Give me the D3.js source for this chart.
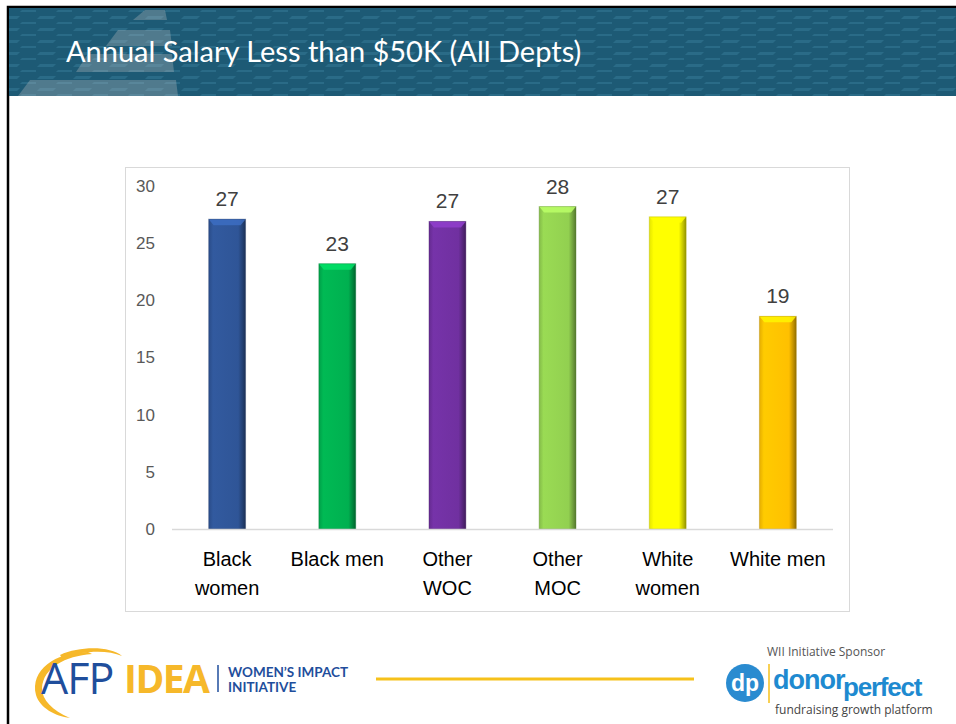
<!DOCTYPE html>
<html>
<head>
<meta charset="utf-8">
<script src="https://cdn.jsdelivr.net/npm/d3@7"></script>
<style>
  body { margin: 0; background: #fff; }
  svg { display: block; }
</style>
</head>
<body>
<svg id="slide" width="956" height="724"></svg>
<script>
// chart data
const categories = ['Black women', 'Black men', 'Other WOC', 'Other MOC', 'White women', 'White men'];
const values = [27.1, 23.2, 26.9, 28.2, 27.3, 18.6];
const barColors = ['#2f5597', '#00b050', '#7030a0', '#92d050', '#ffff00', '#ffc000'];
const yTicks = [0, 5, 10, 15, 20, 25, 30];
const title = 'Annual Salary Less than $50K (All Depts)';

const svg = d3.select('#slide');
const defs = svg.append('defs');

// slide border + header band
svg.append('rect').attr('x', 8).attr('y', 7).attr('width', 960).attr('height', 730)
  .attr('fill', '#fff').attr('stroke', '#000').attr('stroke-width', 2.5);

const pat = defs.append('pattern').attr('id', 'hdrpat').attr('patternUnits', 'userSpaceOnUse')
  .attr('width', 36).attr('height', 12);
pat.append('rect').attr('width', 36).attr('height', 12).attr('fill', '#1d5a75');
pat.append('path').attr('d', 'M4,4 L20,4 L17,7 L1,7 Z').attr('fill', '#2a6b87');
pat.append('path').attr('d', 'M22,10 L38,10 L35,13 L19,13 Z').attr('fill', '#2a6b87');

svg.append('rect').attr('x', 9).attr('y', 8).attr('width', 947).attr('height', 88).attr('fill', 'url(#hdrpat)');

// pale stepped triangle at the left of the header
const stripes = [[145, 10, 165, 20], [118, 30, 170, 46], [88, 54, 172, 72], [30, 80, 176, 96]];
stripes.forEach(s => {
  const [x0, y0, x1, y1] = s;
  svg.append('polygon')
    .attr('points', `${x0 - 12},${y1} ${x0},${y0} ${x1},${y0} ${x1 + 2},${y1}`)
    .attr('fill', '#c8c8c8').attr('opacity', 0.3);
});

svg.append('text').attr('x', 66).attr('y', 62).text(title)
  .attr('fill', '#fff').attr('font-family', 'Lato, "Open Sans", sans-serif').attr('font-size', 29);

// chart frame
svg.append('rect').attr('x', 125.5).attr('y', 167.5).attr('width', 724).attr('height', 444)
  .attr('fill', '#fff').attr('stroke', '#d9d9d9').attr('stroke-width', 1);

const x = d3.scaleBand().domain(categories).range([172, 833]).paddingInner(0.665).paddingOuter(0.333);
const y = d3.scaleLinear().domain([0, 30]).range([529, 186]);

// y axis labels (no line)
const yAxis = svg.append('g').attr('transform', 'translate(172,0)')
  .call(d3.axisLeft(y).tickValues(yTicks).tickSize(0).tickPadding(17));
yAxis.select('.domain').remove();
yAxis.selectAll('text').attr('font-family', '"Liberation Sans", Arial, sans-serif')
  .attr('font-size', 17).attr('fill', '#595959');

// bevel gradients
barColors.forEach((c, i) => {
  const g = defs.append('linearGradient').attr('id', 'bar' + i).attr('x1', 0).attr('x2', 1).attr('y1', 0).attr('y2', 0);
  const base = d3.color(c);
  g.append('stop').attr('offset', '0%').attr('stop-color', base.darker(0.3));
  g.append('stop').attr('offset', '12%').attr('stop-color', base.brighter(0.15));
  g.append('stop').attr('offset', '80%').attr('stop-color', base);
  g.append('stop').attr('offset', '92%').attr('stop-color', base.darker(0.8));
  g.append('stop').attr('offset', '100%').attr('stop-color', base.darker(1.6));
});

const bars = svg.append('g').selectAll('g').data(categories).join('g');
bars.append('rect')
  .attr('x', d => x(d)).attr('width', x.bandwidth())
  .attr('y', (d, i) => y(values[i])).attr('height', (d, i) => y(0) - y(values[i]))
  .attr('fill', (d, i) => `url(#bar${i})`);
// top bevel
bars.append('path')
  .attr('d', (d, i) => {
    const x0 = x(d), x1 = x(d) + x.bandwidth(), t = y(values[i]);
    return `M${x0},${t} L${x1},${t} L${x1 - 5},${t + 6} L${x0 + 5},${t + 6} Z`;
  })
  .attr('fill', (d, i) => d3.color(barColors[i]).brighter(0.7)).attr('opacity', 0.85);
bars.append('rect')
  .attr('x', d => x(d)).attr('width', x.bandwidth())
  .attr('y', (d, i) => y(values[i])).attr('height', (d, i) => y(0) - y(values[i]))
  .attr('fill', 'none').attr('stroke', (d, i) => d3.color(barColors[i]).darker(1.2))
  .attr('stroke-opacity', 0.35).attr('stroke-width', 1);

// value labels
bars.append('text')
  .attr('x', d => x(d) + x.bandwidth() / 2).attr('y', (d, i) => y(values[i]) - 13)
  .attr('text-anchor', 'middle').text((d, i) => d3.format('.0f')(values[i]))
  .attr('font-family', '"Liberation Sans", Arial, sans-serif').attr('font-size', 21).attr('fill', '#404040');

// baseline
svg.append('line').attr('x1', 172).attr('x2', 833).attr('y1', y(0) + 0.5).attr('y2', y(0) + 0.5)
  .attr('stroke', '#d9d9d9').attr('stroke-width', 1.5);

// category labels (wrapped as in the reference)
const catLines = [['Black', 'women'], ['Black men'], ['Other', 'WOC'], ['Other', 'MOC'], ['White', 'women'], ['White men']];
categories.forEach((c, i) => {
  const t = svg.append('text').attr('text-anchor', 'middle')
    .attr('font-family', '"Liberation Sans", Arial, sans-serif').attr('font-size', 20).attr('fill', '#000');
  catLines[i].forEach((ln, j) => {
    t.append('tspan').attr('x', x(c) + x.bandwidth() / 2).attr('y', 566 + j * 29).text(ln);
  });
});

// footer: AFP IDEA logo
svg.append('path').attr('d', 'M88,652 C55,652 30,670 36,695 C40,708 55,716 70,718 C52,710 42,700 42,688 C43,668 65,656 92,654 Z')
  .attr('fill', '#f6b82a');
svg.append('path').attr('d', 'M60,655 C80,646 110,646 122,656 C108,650 85,650 62,658 Z').attr('fill', '#f6b82a');
svg.append('text').attr('x', 41).attr('y', 694).text('AFP')
  .attr('font-family', '"Open Sans", sans-serif').attr('font-size', 43).attr('fill', '#1f4e9c').attr('letter-spacing', -1);
svg.append('text').attr('x', 124).attr('y', 693).text('IDEA')
  .attr('font-family', '"Open Sans", sans-serif').attr('font-weight', 'bold').attr('font-size', 39).attr('fill', '#f6b82a').attr('letter-spacing', -1.5);
svg.append('line').attr('x1', 218).attr('x2', 218).attr('y1', 665).attr('y2', 692).attr('stroke', '#1f4e9c').attr('stroke-width', 1.5);
svg.append('text').attr('x', 228).attr('y', 677).text('WOMEN\u2019S IMPACT')
  .attr('font-family', 'Lato, sans-serif').attr('font-weight', 'bold').attr('font-size', 13.5).attr('fill', '#1f4e9c');
svg.append('text').attr('x', 228).attr('y', 692).text('INITIATIVE')
  .attr('font-family', 'Lato, sans-serif').attr('font-weight', 'bold').attr('font-size', 13.5).attr('fill', '#1f4e9c');

svg.append('line').attr('x1', 376).attr('x2', 694).attr('y1', 679).attr('y2', 679).attr('stroke', '#f6c11a').attr('stroke-width', 3);

// footer: sponsor logo
svg.append('text').attr('x', 767).attr('y', 656).text('WII Initiative Sponsor')
  .attr('font-family', '"Open Sans", sans-serif').attr('font-size', 12).attr('fill', '#555');
svg.append('circle').attr('cx', 745).attr('cy', 683).attr('r', 19).attr('fill', '#2a8bd0');
svg.append('text').attr('x', 745).attr('y', 691).attr('text-anchor', 'middle').text('dp')
  .attr('font-family', '"Liberation Sans", Arial, sans-serif').attr('font-weight', 'bold').attr('font-size', 23).attr('fill', '#fff');
svg.append('line').attr('x1', 769).attr('x2', 769).attr('y1', 664).attr('y2', 703).attr('stroke', '#f6c11a').attr('stroke-width', 1.5);
svg.append('text').attr('x', 773).attr('y', 689).text('donor')
  .attr('font-family', '"Liberation Sans", Arial, sans-serif').attr('font-weight', 'bold').attr('font-size', 27).attr('fill', '#1e8ad0').attr('letter-spacing', -1);
svg.append('text').attr('x', 843).attr('y', 696).text('perfect')
  .attr('font-family', '"Liberation Sans", Arial, sans-serif').attr('font-weight', 'bold').attr('font-size', 26).attr('fill', '#1e8ad0').attr('letter-spacing', -1.2);
svg.append('text').attr('x', 775).attr('y', 714).text('fundraising growth platform')
  .attr('font-family', '"Open Sans", sans-serif').attr('font-size', 12).attr('fill', '#444');
</script>
</body>
</html>
